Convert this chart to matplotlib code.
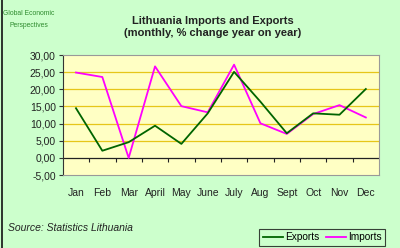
import matplotlib
matplotlib.use("Agg")
import matplotlib.pyplot as plt
from matplotlib.lines import Line2D

plt.rcParams['font.family'] = ['Liberation Sans', 'DejaVu Sans']

months = ["Jan", "Feb", "Mar", "April", "May", "June", "July", "Aug", "Sept", "Oct", "Nov", "Dec"]
exports = [14.5, 2.1, 4.6, 9.4, 4.1, 13.0, 25.1, 16.4, 7.2, 13.0, 12.6, 20.1]
imports = [24.9, 23.6, 0.0, 26.7, 15.1, 13.3, 27.2, 10.1, 7.0, 12.8, 15.4, 11.8]
yticks = [-5, 0, 5, 10, 15, 20, 25, 30]

BG = "#ccffcc"
PLOT_BG = "#ffffc4"
GRID = "#e6c619"

fig = plt.figure(figsize=(4.0, 2.48), dpi=100, facecolor=BG)
ax = fig.add_axes([0.157, 0.294, 0.7905, 0.484])
ax.set_facecolor(PLOT_BG)

x = list(range(len(months)))
ax.plot(x, exports, color="#006400", lw=1.3, label="Exports", zorder=4)
ax.plot(x, imports, color="#ff00ff", lw=1.3, label="Imports", zorder=3)

ymin, ymax = -5, 30
ax.set_xlim(-0.5, len(months) - 0.5)
ax.set_ylim(ymin, ymax)
ax.set_yticks(yticks)
ax.set_yticklabels([f"{v:.2f}".replace(".", ",") for v in yticks], fontsize=7.5, color="#222222")
for v in yticks:
    if v > 0 and v < ymax:
        ax.axhline(v, color=GRID, lw=0.9, zorder=1)
ax.axhline(0, color="#222222", lw=0.9, zorder=2)

ax.set_xticks(x)
ax.set_xticklabels(months, fontsize=7.5, color="#222222")
ax.tick_params(axis="x", length=0, pad=9)
ax.tick_params(axis="y", length=3, direction="out", color="#333333", pad=2)

for s in ("top", "right", "bottom"):
    ax.spines[s].set_color("#999999")
    ax.spines[s].set_linewidth(0.8)
ax.spines["left"].set_color("#333333")
ax.spines["left"].set_linewidth(0.8)

# category axis ticks at the zero line
sec = ax.secondary_xaxis((0 - ymin) / (ymax - ymin))
sec.set_xticks([i + 0.5 for i in x[:-1]])
sec.set_xticklabels([])
sec.tick_params(length=3, direction="out", color="#222222")
sec.spines["bottom"].set_visible(False)

fig.text(0.532, 0.915, "Lithuania Imports and Exports", ha="center", va="center",
         fontsize=8, fontweight="bold", color="#222222")
fig.text(0.532, 0.865, "(monthly, % change year on year)", ha="center", va="center",
         fontsize=8, fontweight="bold", color="#222222")

fig.text(0.072, 0.947, "Global Economic", ha="center", va="center", fontsize=4.9,
         color="#2e8b2e")
fig.text(0.072, 0.898, "Perspectives", ha="center", va="center", fontsize=4.9,
         color="#2e8b2e")

fig.text(0.02, 0.08, "Source: Statistics Lithuania", ha="left", va="center",
         fontsize=7.5, style="italic", color="#222222")

leg = fig.legend(loc="lower right", bbox_to_anchor=(0.9625, 0.008), ncol=2, fontsize=7.3,
                 frameon=True, fancybox=False, handlelength=2.0, handletextpad=0.2,
                 columnspacing=0.6, borderpad=0.35, borderaxespad=0)
leg.get_frame().set_edgecolor("#111111")
leg.get_frame().set_facecolor(BG)
leg.get_frame().set_linewidth(0.8)

fig.add_artist(Line2D([0.004, 0.004], [0, 1], transform=fig.transFigure, color="#111111", lw=1.2))

fig.savefig("out.png", dpi=100, facecolor=BG)
